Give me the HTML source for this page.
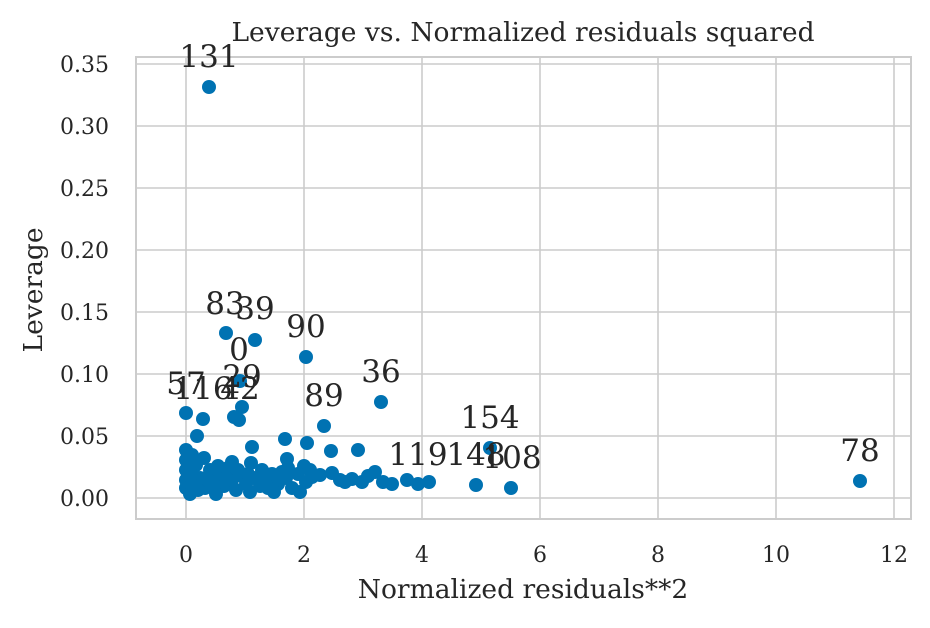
<!DOCTYPE html>
<html><head><style>body{margin:0;background:#fff}</style></head><body>
<svg width="930" height="623" xmlns="http://www.w3.org/2000/svg" font-family="'DejaVu Serif','Liberation Serif',serif">
<rect width="930" height="623" fill="#fff"/>
<g stroke="#cccccc" stroke-width="1.6">
<line x1="186" y1="57" x2="186" y2="519"/><line x1="304" y1="57" x2="304" y2="519"/><line x1="422" y1="57" x2="422" y2="519"/><line x1="540" y1="57" x2="540" y2="519"/><line x1="658" y1="57" x2="658" y2="519"/><line x1="776" y1="57" x2="776" y2="519"/><line x1="894" y1="57" x2="894" y2="519"/>
<line x1="136" y1="498" x2="911" y2="498"/><line x1="136" y1="436" x2="911" y2="436"/><line x1="136" y1="374" x2="911" y2="374"/><line x1="136" y1="312" x2="911" y2="312"/><line x1="136" y1="250" x2="911" y2="250"/><line x1="136" y1="188" x2="911" y2="188"/><line x1="136" y1="126" x2="911" y2="126"/><line x1="136" y1="64" x2="911" y2="64"/>
<rect x="136" y="57" width="775" height="462" fill="none" stroke-width="2"/>
</g>
<g style="font-size:22px" fill="#262626" text-anchor="end">
<text x="109" y="506">0.00</text><text x="109" y="444">0.05</text><text x="109" y="382">0.10</text><text x="109" y="320">0.15</text><text x="109" y="258">0.20</text><text x="109" y="196">0.25</text><text x="109" y="134">0.30</text><text x="109" y="72">0.35</text>
</g>
<g style="font-size:22px" fill="#262626" text-anchor="middle">
<text x="186" y="562">0</text><text x="304" y="562">2</text><text x="422" y="562">4</text><text x="540" y="562">6</text><text x="658" y="562">8</text><text x="776" y="562">10</text><text x="894" y="562">12</text>
</g>
<g fill="#262626" text-anchor="middle">
<text x="523" y="598" style="font-size:26.5px">Normalized residuals**2</text>
<text x="523" y="41" style="font-size:26.5px">Leverage vs. Normalized residuals squared</text>
<text transform="translate(42 290) rotate(-90)" style="font-size:26.5px">Leverage</text>
</g>
<g fill="#0072b2">
<circle cx="209" cy="87" r="7"/><circle cx="226" cy="333" r="7"/><circle cx="255" cy="340" r="7"/><circle cx="306" cy="357" r="7"/><circle cx="240" cy="381" r="7"/>
<circle cx="186" cy="413" r="7"/><circle cx="203" cy="419" r="7"/><circle cx="242" cy="407" r="7"/><circle cx="234" cy="417" r="7"/><circle cx="239" cy="420" r="7"/><circle cx="381" cy="402" r="7"/><circle cx="324" cy="426" r="7"/><circle cx="197" cy="436" r="7"/><circle cx="252" cy="447" r="7"/><circle cx="285" cy="439" r="7"/><circle cx="307" cy="443" r="7"/><circle cx="331" cy="451" r="7"/><circle cx="358" cy="450" r="7"/><circle cx="251" cy="463" r="7"/><circle cx="287" cy="459" r="7"/><circle cx="304" cy="466" r="7"/>
<circle cx="490" cy="448" r="7"/><circle cx="476" cy="485" r="7"/><circle cx="511" cy="488" r="7"/><circle cx="860" cy="481" r="7"/><circle cx="407" cy="480" r="7"/><circle cx="418" cy="484" r="7"/><circle cx="429" cy="482" r="7"/>
<circle cx="332" cy="473" r="7"/><circle cx="340" cy="480" r="7"/><circle cx="352" cy="479" r="7"/><circle cx="368" cy="476" r="7"/><circle cx="375" cy="472" r="7"/><circle cx="383" cy="482" r="7"/><circle cx="392" cy="484" r="7"/><circle cx="362" cy="482" r="7"/><circle cx="345" cy="482" r="7"/><circle cx="320" cy="475" r="7"/>
<circle cx="186" cy="450" r="7"/><circle cx="186" cy="460" r="7"/><circle cx="186" cy="470" r="7"/><circle cx="186" cy="480" r="7"/><circle cx="186" cy="488" r="7"/><circle cx="190" cy="494" r="7"/><circle cx="196" cy="465" r="7"/><circle cx="200" cy="478" r="7"/><circle cx="205" cy="488" r="7"/><circle cx="210" cy="470" r="7"/><circle cx="214" cy="482" r="7"/><circle cx="220" cy="474" r="7"/><circle cx="224" cy="486" r="7"/><circle cx="228" cy="468" r="7"/><circle cx="232" cy="480" r="7"/><circle cx="236" cy="490" r="7"/><circle cx="242" cy="476" r="7"/><circle cx="246" cy="484" r="7"/><circle cx="254" cy="478" r="7"/><circle cx="260" cy="486" r="7"/><circle cx="266" cy="480" r="7"/><circle cx="272" cy="474" r="7"/><circle cx="278" cy="484" r="7"/><circle cx="286" cy="478" r="7"/><circle cx="292" cy="488" r="7"/><circle cx="298" cy="474" r="7"/><circle cx="306" cy="482" r="7"/><circle cx="312" cy="477" r="7"/><circle cx="216" cy="494" r="7"/><circle cx="198" cy="490" r="7"/><circle cx="232" cy="462" r="7"/><circle cx="204" cy="458" r="7"/><circle cx="262" cy="470" r="7"/><circle cx="288" cy="468" r="7"/><circle cx="310" cy="470" r="7"/><circle cx="250" cy="492" r="7"/><circle cx="274" cy="492" r="7"/><circle cx="300" cy="492" r="7"/>
<circle cx="192" cy="455" r="7"/><circle cx="192" cy="475" r="7"/><circle cx="192" cy="485" r="7"/><circle cx="208" cy="480" r="7"/><circle cx="218" cy="466" r="7"/><circle cx="226" cy="478" r="7"/><circle cx="238" cy="470" r="7"/><circle cx="248" cy="474" r="7"/><circle cx="268" cy="488" r="7"/><circle cx="282" cy="472" r="7"/>
</g>
<g style="font-size:31px" fill="#262626" text-anchor="middle">
<text x="209" y="67">131</text><text x="225" y="314">83</text><text x="255" y="319">39</text><text x="306" y="337">90</text><text x="239" y="360">0</text><text x="186" y="394">57</text><text x="203" y="399">116</text><text x="242" y="387">29</text><text x="240" y="399">42</text><text x="381" y="382">36</text><text x="324" y="406">89</text><text x="490" y="428">154</text><text x="418" y="465">119</text><text x="476" y="465">148</text><text x="512" y="468">108</text><text x="860" y="461">78</text>
</g>
</svg>
</body></html>
